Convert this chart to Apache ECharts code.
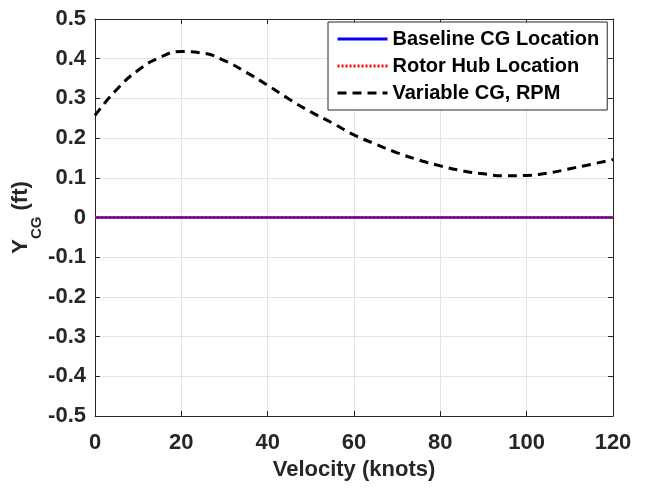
<!DOCTYPE html>
<html>
<head>
<meta charset="utf-8">
<script src="https://cdn.jsdelivr.net/npm/echarts@6/dist/echarts.min.js"></script>
<style>html,body{margin:0;padding:0;background:#fff}#c{width:646px;height:488px}</style>
</head>
<body>
<div id="c"></div>
<script>
var velocity = [0,5,10,15,20,25,30,35,40,45,50,55,60,65,70,75,80,85,90,95,100,105,110,115,120];
var baselineCG = [0,0,0,0,0,0,0,0,0,0,0,0,0,0,0,0,0,0,0,0,0,0,0,0,0];
var rotorHub = [0,0,0,0,0,0,0,0,0,0,0,0,0,0,0,0,0,0,0,0,0,0,0,0,0];
var variableCG = [0.257,0.322,0.371,0.403,0.418,0.414,0.395,0.366,0.333,0.298,0.266,0.238,0.208,0.185,0.163,0.145,0.130,0.118,0.110,0.105,0.106,0.112,0.123,0.134,0.146];
var seriesNames = ['Baseline CG Location','Rotor Hub Location','Variable CG, RPM'];

function pairs(ys){ return velocity.map(function(v,i){ return [v, ys[i]]; }); }
var FONT = 'Liberation Sans';
var chart = echarts.init(document.getElementById('c'));
var axisCommonY = {
  type:'value', min:-0.5, max:0.5, interval:0.1,
  axisLine:{show:true, onZero:false, lineStyle:{color:'#262626', width:1}},
  axisTick:{show:true, inside:true, length:5, lineStyle:{color:'#262626'}},
  splitLine:{show:true, lineStyle:{color:'#e3e3e3', width:1}}
};
chart.setOption({
  animation:false,
  grid:{left:95, top:19, right:33, bottom:72, containLabel:false, outerBoundsMode:'none'},
  legend:{
    orient:'vertical', left:328, top:22,
    backgroundColor:'#fff', borderColor:'#262626', borderWidth:1,
    padding:[7,8,7,8], itemGap:7, itemWidth:50, itemHeight:14,
    itemStyle:{color:'transparent', borderColor:'transparent', borderWidth:0, opacity:0},
    lineStyle:{width:3},
    textStyle:{fontFamily:FONT, fontWeight:'bold', fontSize:20, color:'#000'},
    data:seriesNames
  },
  xAxis:[{
    type:'value', min:0, max:120, interval:20,
    name:'Velocity (knots)', nameLocation:'middle', nameGap:43, nameMoveOverlap:false,
    nameTextStyle:{fontFamily:FONT, fontWeight:'bold', fontSize:22, color:'#262626'},
    axisLine:{show:true, onZero:false, lineStyle:{color:'#262626', width:1}},
    axisTick:{show:true, inside:true, length:5, lineStyle:{color:'#262626'}},
    axisLabel:{fontFamily:FONT, fontWeight:'bold', fontSize:22, color:'#262626', margin:16},
    splitLine:{show:true, lineStyle:{color:'#e3e3e3', width:1}}
  },{
    type:'value', min:0, max:120, interval:20, position:'top',
    axisLine:{show:true, onZero:false, lineStyle:{color:'#262626', width:1}},
    axisTick:{show:true, inside:true, length:5, lineStyle:{color:'#262626'}},
    axisLabel:{show:false}, splitLine:{show:false}
  }],
  yAxis:[Object.assign({}, axisCommonY, {
    position:'left',
    name:'{a|Y}{b|CG}{a| (ft)}', nameLocation:'middle', nameGap:61, nameRotate:90, nameMoveOverlap:false,
    nameTextStyle:{rich:{
      a:{fontFamily:FONT, fontWeight:'bold', fontSize:22, color:'#262626', lineHeight:24, verticalAlign:'top'},
      b:{fontFamily:FONT, fontWeight:'bold', fontSize:15, color:'#262626', lineHeight:16, verticalAlign:'top', padding:[19,0,0,0]}
    }},
    axisLabel:{fontFamily:FONT, fontWeight:'bold', fontSize:22, color:'#262626', margin:9,
      formatter:function(v){ var r=Math.round(v*10)/10; return r===0?'0':r.toFixed(1);} }
  }), Object.assign({}, axisCommonY, {
    position:'right', axisLabel:{show:false}, splitLine:{show:false}
  })],
  series:[
    {name:seriesNames[0], type:'line', data:pairs(baselineCG), symbol:'none', z:2,
      lineStyle:{color:'#0000ff', width:2.5}, itemStyle:{color:'#0000ff'}},
    {name:seriesNames[1], type:'line', data:pairs(rotorHub), symbol:'none', z:3,
      lineStyle:{color:'#ff0000', width:2.5, type:[2,2]}, itemStyle:{color:'#ff0000'}},
    {name:seriesNames[2], type:'line', data:pairs(variableCG), symbol:'none', smooth:true, z:4,
      lineStyle:{color:'#000', width:3, type:[9,6]}, itemStyle:{color:'#000'}}
  ]
});
</script>
</body>
</html>
